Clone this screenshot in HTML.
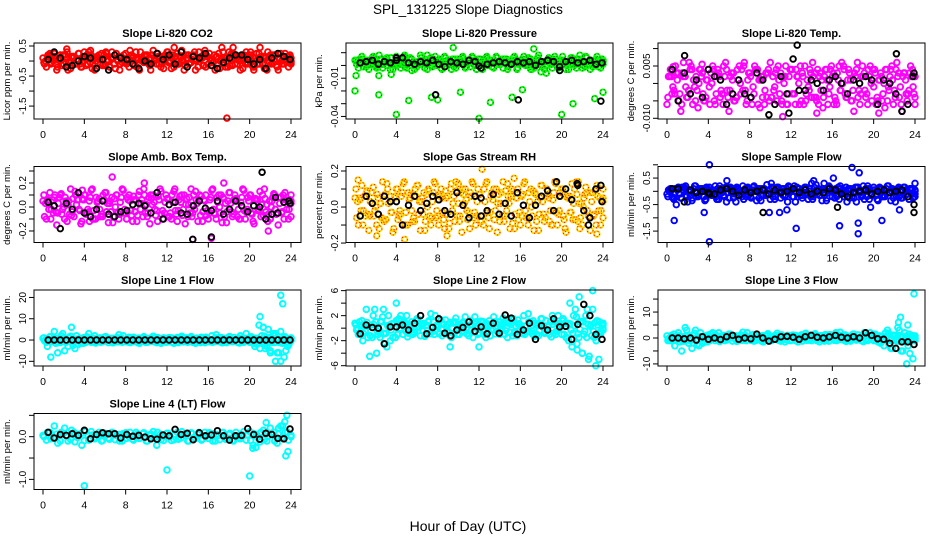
<!DOCTYPE html>
<html><head><meta charset="utf-8">
<style>
html,body{margin:0;padding:0;background:#fff;}
svg{display:block;font-family:"Liberation Sans",Arial,sans-serif;}
</style></head>
<body>
<svg id="fig" width="936" height="540" viewBox="0 0 936 540" xmlns="http://www.w3.org/2000/svg">
<rect x="0" y="0" width="936" height="540" fill="#fff"/>
<text x="468" y="14" text-anchor="middle" font-size="13.5">SPL_131225  Slope Diagnostics</text>
<text x="468" y="531" text-anchor="middle" font-size="14">Hour of Day (UTC)</text>
<g id="panels"></g>
</svg>
<script>
// ---- data arrays ----
const xTicks=[0,4,8,12,16,20,24];
const xTickLabels=["0","4","8","12","16","20","24"];

const co2Color=[0.1,-0.2,0.25,0,-0.3,0.2,-0.1,0.3,-0.25,0.15,0.05,-0.2,0.3,-0.1,0.2,-0.3,0.1,0.25,-0.15,0,0.3,-0.25,0.15,-0.05,0.25,-0.2,0.1,0.3,-0.3,0.05,0.2,-0.15,0.35,-0.1,0.15,-0.25,0.3,0,-0.2,0.25,0.1,-0.3,0.2,-0.05,0.3,-0.2,0.15,0.35,-0.1,0.05,-0.3,0.25,0.1,-0.2,0.3,-0.15,0.2,0,-0.25,0.3,0.1,-0.2,0.25,-0.1,0.15,-0.3,0.2,0.05,-0.2,0.25,-0.1,0.15,-0.05];
const co2Color2=[-0.1,0.2,-0.05,0.15,0.05,-0.15,0.2,-0.05,0.1,-0.1,0.25,0,-0.15,0.2,-0.1,0.1,0.05,-0.1,0.25,-0.2,0.1,0.05,-0.1,0.2,0,0.15,-0.15,0.1,0.05,0.2,-0.05,0.1,0,0.15,-0.1,0.2,-0.05,0.1,0.15,-0.1,0.05,0.2,-0.1,0.15,0,0.05,-0.15,0.2,0.1,-0.05,0.15,0,-0.1,0.1,0.05,0.2,-0.1,0.15,0.05,-0.05,0.2,0.1,-0.1,0.05,0.15,0,-0.05,0.2,0.1,-0.1,0.05,0.15,0];
const co2Black=[0.05,0.3,0.1,-0.2,-0.15,0,0.15,0.1,-0.25,0.05,-0.3,0.2,0.1,0.05,-0.1,-0.25,0,-0.1,0.25,0.05,0.2,-0.1,0.3,-0.2,0.15,0.1,0.25,-0.15,-0.25,-0.05,0.1,0.2,0.2,0.05,-0.1,0.05,-0.25,0.1,0.25,0.15,0.05];
const co2OutH=[17.8,2.3,4.6,17.3,18.4,21,12.7,20.4];
const co2OutV=[-1.9,0.4,0.35,0.45,0.45,0.45,0.45,-0.3];

const presColor=[0.004,-0.002,0.007,0.001,-0.003,0.006,0,0.008,-0.002,0.004,0.002,-0.003,0.007,0.001,0.005,-0.002,0.006,0.003,-0.001,0.008,0.002,-0.003,0.006,0.001,0.004,-0.002,0.007,0.003,-0.003,0.005,0.001,0.006,-0.002,0.004,0.007,0,0.005,-0.003,0.006,0.002,-0.001,0.007,0.003,-0.002,0.005,0.001,0.006,-0.003,0.004,0.007,0,0.005,-0.002,0.006,0.003,-0.003,0.005,0.001,0.007,-0.002,0.004,0.002,-0.003,0.006,0.001,0.005,-0.002,0.007,0.003,-0.001,0.005,0.002,0.004];
const presColor2=[0.001,0.005,-0.001,0.004,0.002,0.003,-0.001,0.005,0.002,0,0.006,0.001,0.003,0.004,-0.001,0.002,0.005,0,0.003,0.001,0.004,0.002,-0.001,0.003,0.005,0.001,0.002,0.004,0,0.003,0.005,0.001,0.002,-0.001,0.004,0.003,0.001,0.005,0,0.002,0.004,0.001,0.003,0.005,-0.001,0.002,0.004,0.001,0.003,0,0.005,0.002,0.001,0.004,0.003,0,0.002,0.005,0.001,0.003,0.004,0,0.002,0.003,0.005,0.001,0.002,0,0.004,0.003,0.001,0.002,0.003];
const presBlack=[0.002,0.003,0.004,0.001,0.003,0.002,0.004,0.006,0.002,0.001,0.003,0.002,0.004,0.001,-0.001,0.003,0.002,0.001,0.004,0.003,-0.002,0.001,0.002,0.003,0.002,0.001,0.003,0.002,0.003,0,0.003,0.004,0.003,-0.004,0.003,0.004,0.002,0.003,0.004,0.001,0.002];
const presOutH=[0,0.1,2.3,2.3,4,5.2,7.4,8,10.2,12,13.1,15.2,16.2,17.3,9.5,20,21.1,23.2,24,17,18,18.5,7,4.8,5.5,3.5];
const presOutV=[-0.02,-0.008,-0.023,-0.008,-0.0385,-0.0275,-0.025,-0.027,-0.021,-0.0415,-0.029,-0.025,-0.019,0.013,0.014,-0.0385,-0.030,-0.026,-0.021,-0.003,-0.005,-0.006,0.008,0.008,-0.004,-0.007];
const presBlkOutH=[7.8,15.8,23.8,4,19.8,12];
const presBlkOutV=[-0.023,-0.027,-0.028,0.006,-0.001,-0.0005];

const tempColor=[-0.006,0.004,-0.002,0.001,-0.008,0.003,-0.004,0.005,-0.001,-0.007,0.002,-0.005,0.004,0,-0.006,0.003,-0.003,0.006,-0.008,0.001,-0.004,0.005,-0.002,-0.006,0.003,-0.001,0.004,-0.007,0.002,-0.004,0.006,-0.002,-0.005,0.003,0,-0.006,0.004,-0.003,0.002,-0.005,0.005,-0.001,-0.004,0.003,-0.006,0.001,0.004,-0.003,0.002,-0.005,0.005,0,-0.004,0.003,-0.002,0.004,-0.006,0.002,-0.003,0.005,-0.001,-0.004,0.003,0,-0.005,0.004,-0.002,0.002,-0.006,0.003,-0.003,0.002,-0.004];
const tempColor2=[0.002,-0.003,0.005,-0.005,0.003,-0.001,0.006,-0.006,0.002,0.004,-0.003,0.001,-0.006,0.004,0.002,-0.004,0.005,-0.002,0.002,-0.005,0.004,-0.003,0.006,0.001,-0.004,0.005,-0.006,0.002,-0.002,0.004,-0.004,0.003,0.001,-0.006,0.005,0.002,-0.003,0.004,-0.006,0.002,-0.003,0.004,0.002,-0.005,0.003,-0.004,0.001,0.004,-0.006,0.003,-0.002,0.004,0.001,-0.005,0.003,-0.004,0.002,-0.002,0.004,-0.005,0.003,0.001,-0.005,0.004,-0.002,0.001,0.004,-0.004,0.002,-0.003,0.003,-0.001,0.002];
const tempBlack=[0.004,-0.005,0.003,-0.003,0.001,-0.004,0.004,0.002,0.001,-0.006,-0.003,0.001,-0.003,-0.004,0.003,0.001,-0.009,-0.006,0.002,-0.003,0.007,-0.002,-0.002,0.001,0,-0.002,0.001,0.002,0,-0.003,0.001,0,0.002,0.001,-0.006,0.001,0,-0.003,-0.008,-0.006,0.003];
const tempOutH=[11.2,14.5,1.6,0.6,20.5,3.4];
const tempOutV=[-0.0095,-0.0085,0.006,0.0048,-0.0085,0.0055];
const tempBlkOutH=[12.6,22.2,1.7,11.8,23.8];
const tempBlkOutV=[0.011,0.0085,0.008,-0.0085,0.002];

const ambColor=[0.05,-0.1,0.12,-0.05,-0.15,0.1,0,-0.12,0.15,-0.08,0.06,-0.14,0.1,-0.02,0.14,-0.1,0.05,-0.06,0.12,-0.13,0.08,0,-0.1,0.15,-0.05,0.1,-0.12,0.06,0.13,-0.08,0.02,-0.14,0.1,-0.03,0.15,-0.1,0.07,-0.05,0.13,-0.12,0.04,0.1,-0.08,0.15,-0.02,-0.12,0.09,0.05,-0.1,0.14,-0.06,0.1,-0.13,0.03,0.12,-0.08,0.07,-0.1,0.15,-0.04,0.1,-0.12,0.06,0.13,-0.07,0.02,-0.1,0.11,-0.05,0.08,-0.1,0.05,0.1];
const ambColor2=[-0.08,0.06,-0.02,0.1,0.03,-0.06,0.08,0.05,-0.04,0.1,-0.02,0.07,-0.06,0.05,-0.1,0.08,-0.02,0.1,-0.04,0.05,-0.08,0.1,0.04,-0.05,0.08,-0.03,0.06,-0.07,0.03,0.1,-0.05,0.07,-0.02,0.09,-0.06,0.04,-0.08,0.1,-0.03,0.06,-0.07,0.02,0.08,-0.05,0.06,0.1,-0.04,-0.07,0.06,-0.02,0.08,-0.05,0.07,-0.04,0.03,0.06,-0.08,0.04,-0.03,0.08,-0.05,0.06,-0.03,0.02,0.07,-0.06,0.05,-0.02,0.08,-0.04,0.06,-0.02,0.03];
const ambBlack=[0.04,0.01,-0.18,0.03,-0.02,0.12,-0.05,-0.08,-0.02,0.05,-0.06,-0.08,-0.04,-0.03,0.02,0.03,0.01,-0.05,0.12,-0.1,0.02,0.04,-0.05,-0.06,0.01,0.05,-0.01,-0.03,0.05,-0.06,-0.02,0.05,0.01,-0.04,0.01,0,-0.1,-0.06,-0.05,0.04,0.03];
const ambOutH=[14.5,16.3,21.8,6.7,4.5,17.5,9.8,3.8];
const ambOutV=[-0.27,-0.26,-0.2,0.25,-0.12,0.2,0.2,0.14];
const ambBlkOutH=[21.2,14.5,16.3,22.5,23.8];
const ambBlkOutV=[0.29,-0.27,-0.25,0.08,0.05];

const rhColor=[0.05,-0.1,0.12,-0.05,-0.13,0.08,0,-0.12,0.14,-0.07,0.06,-0.14,0.1,-0.02,0.13,-0.1,0.05,-0.06,0.12,-0.13,0.08,0,-0.1,0.14,-0.05,0.1,-0.12,0.06,0.13,-0.08,0.02,-0.14,0.1,-0.03,0.14,-0.1,0.07,-0.05,0.13,-0.12,0.04,0.1,-0.08,0.14,-0.02,-0.12,0.09,0.05,-0.1,0.13,-0.06,0.1,-0.13,0.03,0.12,-0.08,0.07,-0.1,0.14,-0.04,0.1,-0.12,0.06,0.13,-0.07,0.02,-0.1,0.11,-0.05,0.08,-0.1,0.05,0.1];
const rhColor2=[-0.06,0.04,-0.02,0.09,0.03,-0.05,0.07,0.02,-0.08,0.1,-0.03,0.05,-0.07,0.06,-0.1,0.08,-0.02,0.1,-0.04,0.05,-0.08,0.09,0.03,-0.06,0.07,-0.03,0.05,-0.09,0.02,0.09,-0.05,0.07,-0.02,0.08,-0.06,0.03,-0.08,0.1,-0.03,0.06,-0.07,0.02,0.08,-0.05,0.06,0.1,-0.04,-0.07,0.06,-0.02,0.08,-0.05,0.07,-0.04,0.03,0.06,-0.08,0.04,-0.03,0.08,-0.05,0.06,-0.03,0.02,0.07,-0.06,0.05,-0.02,0.08,-0.04,0.06,-0.02,0.03];
const rhBlack=[-0.05,0.06,0.02,-0.04,0.06,0.03,0.03,-0.1,0.01,0.06,-0.02,0.02,0.06,0.04,-0.02,-0.04,0.08,0.01,-0.06,0.06,0.05,-0.02,0.07,-0.04,0.02,-0.05,0.08,0.01,-0.06,0.01,0.06,0.09,-0.02,0.06,0.1,0.04,0.12,-0.02,-0.06,0.1,0.03];
const rhOutH=[12.3,4.8,2.1,0.3,8.9,21.6,23.4,15.4,10];
const rhOutV=[0.21,-0.18,-0.16,0.15,-0.16,0.14,-0.15,0.16,0.13];
const rhBlkOutH=[19.5,21.5,23.8,22.6,12.2];
const rhBlkOutV=[0.14,0.13,0.12,-0.1,-0.05];

const sfColor=[-0.1,0.1,-0.3,0.05,-0.25,0.15,-0.4,0,0.2,-0.2,0.1,-0.35,0.05,-0.15,0.2,-0.3,-0.05,0.15,-0.25,0.1,-0.4,0.05,0.2,-0.2,-0.05,0.15,-0.35,0.1,-0.15,0.25,-0.3,0,0.15,-0.25,0.1,-0.4,0.05,0.2,-0.2,0,0.15,-0.3,0.3,-0.1,0.1,-0.35,0.05,0.2,-0.2,0.1,-0.3,0,0.15,-0.25,0.1,-0.4,0.05,0.2,-0.2,-0.05,0.15,-0.3,0.1,-0.15,0.2,-0.35,0.05,0.1,-0.25,0.15,-0.1,0.05,-0.2];
const sfColor2=[0.05,-0.2,0.1,-0.1,0.15,-0.15,0.05,-0.25,-0.05,0.1,-0.2,0.15,-0.1,0.05,-0.3,0.1,-0.15,-0.05,0.15,-0.2,0.1,-0.1,-0.05,0.15,-0.25,0.05,0.1,-0.15,0.05,-0.1,0.15,-0.2,-0.05,0.1,-0.15,0.15,-0.2,0,0.1,-0.15,-0.05,0.1,-0.2,0.05,-0.15,0.1,-0.25,0,0.05,-0.15,0.1,-0.2,0.05,-0.1,-0.05,0.15,-0.2,0,0.1,-0.15,0.05,0.1,-0.2,0,-0.05,0.1,-0.15,-0.2,0.05,-0.1,0.1,-0.25,0];
const sfBlack=[0.1,0.1,-0.4,0.05,-0.05,0,-0.05,-0.1,0.05,0.1,0,-0.15,0.05,-0.05,0,0.05,-0.1,0.05,-0.05,0,0.1,-0.05,0.05,-0.1,0,-0.05,0.1,0.05,-0.1,-0.2,-0.05,0,0.05,-0.1,0,0.05,-0.05,0,0.05,-0.2,-0.5];
const sfOutH=[4.1,4.1,3.6,0.7,12.5,18.5,18.5,16.7,20.8,17.9,18.6,16.1,5.8,2.8,14.2,24,9.9,10.9,11.6,0.9,15.2,19.7,22.5,1.8];
const sfOutV=[1.0,-1.9,-0.8,-1.1,-1.4,-1.2,-1.6,-1.3,-1.1,0.9,0.7,0.5,0.4,-0.2,0.4,0.3,-0.8,-0.8,-0.7,-0.5,0.3,-0.6,-0.7,0.2];
const sfBlkOutH=[9.3,16.5,23.9,4.1];
const sfBlkOutV=[-0.8,-0.6,-0.8,-0.1];

const l1Color=[0.8,-1,1.5,-0.5,0.3,-1.2,1,-0.2,1.8,-0.8,0.5,-1.5,1.2,0,-1,2,0.4,-0.6,1.5,-1.2,0.8,-0.4,2.5,-1,0.2,1.3,-0.8,0.6,-1.5,1,0,-0.5,1.8,-1.2,0.5,1,-0.8,0.3,-1.5,1.2,-0.2,0.8,-1,1.6,0,-0.7,1.3,-1.2,0.5,2,-0.5,1,-1.3,0.4,1.5,-0.8,0.2,-1.4,1,3,-1,0.8,-2,-4,6,-3,-5,2,-6,4,-8,-3,1];
const l1Black=[0,0,0,0,0,0,0,0,0,0,0,0,0,0,0,0,0,0,0,0,0,0,0,0,0,0,0,0,0,0,0,0,0,0,0,0,0,0,0,0,0];
const l1OutH=[23,23.2,21,20.9,21.3,22,22.5,23,22.8,21.5,22.3,23.5,20.5,23.8,21.8];
const l1OutV=[21,17,11,7,6,-6,-10,-10,-6,-4,3,-5,-3,-2,5];

const l2Color=[0.8,-1,1.2,-0.5,0.3,-1.5,1,-0.2,1.8,-0.8,0.5,-1.5,1.2,0,-1,2,0.4,-0.6,1.5,-1.2,0.8,-0.4,2.3,-1,0.2,1.3,-0.8,0.6,-1.5,1,0,-0.5,1.8,-1.2,0.5,1,-0.8,0.3,-1.5,1.2,-0.2,0.8,-1,1.6,0,-0.7,1.3,-1.2,0.5,2,-0.5,1,-1.3,0.4,1.5,-0.8,0.2,-1.4,1,2,-1,0.8,-2,-3,3,-1.5,-4,2,-4.5,3,-2,1,0.5];
const l2Color2=[-0.3,0.5,-0.8,0.9,-1.2,0.6,-0.5,1.1,-0.9,0.4,-0.3,0.8,-1,0.5,0.7,-0.8,1,-0.3,0.2,0.6,-1,1.2,-0.6,0.4,-0.9,0.7,0.3,-1.2,0.9,-0.4,0.6,1,-0.9,0.5,-0.6,0.3,1.1,-1,0.7,-0.3,1,-0.6,0.4,-1,0.8,0.9,-0.5,0.6,-0.8,0.3,1,-0.9,0.5,-0.4,0.2,1.2,-1,0.6,-0.5,0.8,1.5,-1.5,0.7,2,-2.5,1,-1,3,0.5,-1.5,0.5,-0.5,0];
const l2Black=[-0.9,0.5,0.1,0,-2.5,0.2,0.2,0.5,-0.3,0.8,2,-0.9,0.1,1.5,-0.8,-1.2,-0.3,0.1,1,-0.5,0.2,-0.9,0.8,-0.8,2.1,1.6,-1,-0.3,0.8,-1.8,0.4,-0.3,1.5,0.2,0.3,-1.8,0.6,3.8,2,-1,-1.8];
const l2OutH=[4,20.8,21.7,23,23.3,22,21.5,12,9.2,11.6,15.3,22.6,23.6];
const l2OutV=[4,4,5,6,-6,-4,-3.5,-3,-3,1.8,1.5,-5,-5];

const l3Color=[0.8,-1,1.5,-0.5,0.3,-1.2,1,-0.2,1.8,-0.8,0.5,-1.5,1.2,0,-1,2,0.4,-0.6,1.5,-1.2,0.8,-0.4,2.2,-1,0.2,1.3,-0.8,0.6,-1.5,1,0,-0.5,1.8,-1.2,0.5,1,-0.8,0.3,-1.5,1.2,-0.2,0.8,-1,1.6,0,-0.7,1.3,-1.2,0.5,2,-0.5,1,-1.3,0.4,1.5,-0.8,0.2,-1.4,1,2,-1,0.8,-2,-3,3,-4,-2,4,-5,2,-3,1,-1];
const l3Black=[0,0,-0.3,0,-0.8,0.5,-0.5,0,-0.6,0.5,1,-0.5,0,-0.3,1.5,0,-1.2,-0.5,0.5,0.6,0.3,-0.5,0.5,1,0.3,0,0.4,1,0.3,0,0.5,0,2,1,-0.3,-0.5,-2,-4,-1.5,-1.5,-2.5];
const l3OutH=[23.9,23.2,23.8,22.6,22.8,23.3,22.4,23.5,21.8];
const l3OutV=[17,-10,-8,8,-5,5,6,-6,-4];

const l4Color=[0.03,-0.08,0.1,-0.04,0.06,-0.1,0.08,0,-0.06,0.1,-0.02,0.07,-0.09,0.04,0.12,-0.05,0.02,-0.1,0.08,-0.03,0.1,-0.07,0.05,-0.1,0.09,0,-0.06,0.1,-0.04,0.07,-0.1,0.03,0.12,-0.06,0.05,-0.09,0.08,0,-0.07,0.1,-0.03,0.06,-0.1,0.09,-0.02,0.05,-0.08,0.1,-0.04,0.07,-0.1,0.03,0.09,-0.06,0.05,-0.09,0.1,-0.02,0.04,-0.08,0.12,-0.2,0.05,-0.12,0.15,-0.1,0.2,0.1,-0.15,0.25,-0.05,0.1,0];
const l4Black=[0.1,-0.03,0.05,0.03,0.07,0.03,0.15,-0.05,0.05,0.09,0.07,0.07,-0.03,0.05,0.01,0.03,-0.01,-0.05,-0.06,0.04,0.02,0.17,0.05,0.08,-0.07,0.09,0.02,0.04,0.14,0.02,-0.08,0.02,0.03,0.19,0.05,-0.06,0.08,0.05,-0.04,-0.05,0.18];
const l4OutH=[4,12,20,23.6,23.4,21.6,23.5,20.3,23.7,11,22.8,23.2,20.6];
const l4OutV=[-1.15,-0.78,-0.92,0.5,0.35,0.33,-0.45,-0.27,-0.35,-0.2,0.2,0.25,-0.25];

// ---- panel specs (axis ranges & tick labels) ----
const panels=[
 {name:"co2",title:"Slope Li-820 CO2",ylab:"Licor ppm per min.",col:0,row:0,top:0.6,bot:-1.93,ticks:[0.5,0,-0.5,-1,-1.5],labels:["0.5","","-0.5","","-1.5"],color:"#ff0000",dash:null,cA:co2Color,cB:co2Color2,k:co2Black,oh:co2OutH,ov:co2OutV,bh:[],bv:[]},
 {name:"pressure",title:"Slope Li-820 Pressure",ylab:"kPa per min.",col:1,row:0,top:0.0176,bot:-0.042,ticks:[0.01,0,-0.01,-0.02,-0.03,-0.04],labels:["","","-0.01","","","-0.04"],color:"#00ff00",dash:"#006600",cA:presColor,cB:presColor2,k:presBlack,oh:presOutH,ov:presOutV,bh:presBlkOutH,bv:presBlkOutV},
 {name:"temp",title:"Slope Li-820 Temp.",ylab:"degrees C per min.",col:2,row:0,top:0.0116,bot:-0.0102,ticks:[0.01,0.005,0,-0.005,-0.01],labels:["","0.005","","","-0.010"],color:"#ff00ff",dash:null,cA:tempColor,cB:tempColor2,k:tempBlack,oh:tempOutH,ov:tempOutV,bh:tempBlkOutH,bv:tempBlkOutV},
 {name:"ambbox",title:"Slope Amb. Box Temp.",ylab:"degrees C per min.",col:0,row:1,top:0.3375,bot:-0.296,ticks:[0.3,0.2,0.1,0,-0.1,-0.2],labels:["","0.2","","0.0","","-0.2"],color:"#ff00ff",dash:null,cA:ambColor,cB:ambColor2,k:ambBlack,oh:ambOutH,ov:ambOutV,bh:ambBlkOutH,bv:ambBlkOutV},
 {name:"rh",title:"Slope Gas Stream RH",ylab:"percent per min.",col:1,row:1,top:0.225,bot:-0.197,ticks:[0.2,0.1,0,-0.1,-0.2],labels:["0.2","","0.0","","-0.2"],color:"#ffd400",dash:"#ff0000",cA:rhColor,cB:rhColor2,k:rhBlack,oh:rhOutH,ov:rhOutV,bh:rhBlkOutH,bv:rhBlkOutV},
 {name:"sampleflow",title:"Slope Sample Flow",ylab:"ml/min per min.",col:2,row:1,top:0.936,bot:-1.93,ticks:[1,0.5,0,-0.5,-1,-1.5],labels:["","0.5","","-0.5","","-1.5"],color:"#0000ff",dash:null,cA:sfColor,cB:sfColor2,k:sfBlack,oh:sfOutH,ov:sfOutV,bh:sfBlkOutH,bv:sfBlkOutV},
 {name:"line1",title:"Slope Line 1 Flow",ylab:"ml/min per min.",col:0,row:2,top:23.5,bot:-12.2,ticks:[20,10,0,-10],labels:["20","10","0","-10"],color:"#00ffff",dash:null,cA:l1Color,cB:l2Color2,k:l1Black,oh:l1OutH,ov:l1OutV,bh:[],bv:[]},
 {name:"line2",title:"Slope Line 2 Flow",ylab:"ml/min per min.",col:1,row:2,top:6.1,bot:-6.05,ticks:[6,4,2,0,-2,-4,-6],labels:["6","","2","","-2","","-6"],color:"#00ffff",dash:null,cA:l2Color,cB:l2Color2,k:l2Black,oh:l2OutH,ov:l2OutV,bh:[],bv:[]},
 {name:"line3",title:"Slope Line 3 Flow",ylab:"ml/min per min.",col:2,row:2,top:18.5,bot:-10.8,ticks:[15,10,5,0,-5,-10],labels:["","10","","0","","-10"],color:"#00ffff",dash:null,cA:l3Color,cB:l2Color2,k:l3Black,oh:l3OutH,ov:l3OutV,bh:[],bv:[]},
 {name:"line4",title:"Slope Line 4 (LT) Flow",ylab:"ml/min per min.",col:0,row:3,top:0.543,bot:-1.237,ticks:[0.5,0,-0.5,-1],labels:["","0.0","","-1.0"],color:"#00ffff",dash:null,cA:l4Color,cB:null,k:l4Black,oh:l4OutH,ov:l4OutV,bh:[],bv:[]}
];

const NS="http://www.w3.org/2000/svg";
const root=document.getElementById('panels');
function mk(tag,attrs,parent){const e=document.createElementNS(NS,tag);for(const k in attrs)e.setAttribute(k,attrs[k]);parent.appendChild(e);return e;}

panels.forEach(p=>{
  const bx=34+312*p.col, by=43+123.5*p.row, bw=267, bh=76;
  const xs=h=>bx+9+h*(248/24);
  const ys=v=>by+(p.top-v)/(p.top-p.bot)*bh;
  const g=mk('g',{},root);
  
  
  const t=mk('text',{x:bx+bw/2,y:by-6,'text-anchor':'middle','font-size':'11','font-weight':'bold'},g);
  
  
  t.textContent=p.title;
  const yl=mk('text',{x:0,y:0,'text-anchor':'middle','font-size':'9.5',transform:`translate(${bx-24},${by+bh/2}) rotate(-90)`},g);
  
  
  yl.textContent=p.ylab;
  const pts=mk('g',{fill:'none'},g);
  
  
  function dot(h,v,col,dash){
    const c=mk('circle',{cx:xs(h).toFixed(1),cy:ys(v).toFixed(1),r:2.8,stroke:col,'stroke-width':1.9},pts);
    
    
    if(dash){const d=mk('circle',{cx:xs(h).toFixed(1),cy:ys(v).toFixed(1),r:2.8,stroke:dash,'stroke-width':1,'stroke-dasharray':'1 2.4'},pts);
      
      }
  }
  const layers=[];
  if(p.cA){layers.push([p.cA,0,false]);layers.push([p.cA,0.09,true]);}
  if(p.cB){layers.push([p.cB,0.15,false]);layers.push([p.cB,0.24,true]);}
  layers.forEach(([arr,off,rev])=>{
    const n=arr.length;
    arr.forEach((v,i)=>{const idx=rev?(n-1-i):i; const h=Math.min(24,idx*24/(n-1)+off); dot(h,v,p.color,p.dash);});
  });
  p.oh.forEach((h,i)=>dot(h,p.ov[i],p.color,p.dash));
  const nk=p.k.length;
  p.k.forEach((v,i)=>dot(0.5+i*23.4/(nk-1),v,'#000',null));
  p.bh.forEach((h,i)=>dot(h,p.bv[i],'#000',null));
  const box=mk('rect',{x:bx,y:by,width:bw,height:bh,fill:'none',stroke:'#000','stroke-width':1},g);
  
  
  const xa=mk('g',{},g);
  
  
  mk('line',{x1:xs(0),x2:xs(24),y1:by+bh,y2:by+bh,stroke:'#000'},xa);
  xTicks.forEach((h,i)=>{
    mk('line',{x1:xs(h),x2:xs(h),y1:by+bh,y2:by+bh+5,stroke:'#000'},xa);
    const tl=mk('text',{x:xs(h),y:by+bh+19,'text-anchor':'middle','font-size':'10.5'},xa);
    
    
    tl.textContent=xTickLabels[i];
  });
  const ya=mk('g',{},g);
  
  
  p.ticks.forEach((v,i)=>{
    mk('line',{x1:bx-5,x2:bx,y1:ys(v),y2:ys(v),stroke:'#000'},ya);
    if(p.labels[i]){
      const tl=mk('text',{x:0,y:0,'text-anchor':'middle','font-size':'10',transform:`translate(${bx-8},${ys(v)}) rotate(-90)`},ya);
      
      
      tl.textContent=p.labels[i];
    }
  });
});
</script>
</body></html>
